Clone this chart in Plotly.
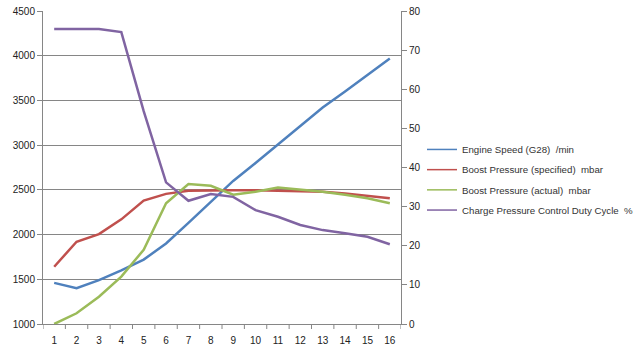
import plotly.graph_objects as go

categories = list(range(1, 17))
engine_speed = [1460, 1400, 1490, 1600, 1720, 1900, 2130, 2370, 2600, 2800, 3010, 3210, 3420, 3600, 3790, 3970]
boost_specified = [1640, 1920, 2005, 2170, 2380, 2455, 2490, 2495, 2495, 2495, 2490, 2485, 2480, 2460, 2430, 2405]
boost_actual = [1000, 1120, 1305, 1530, 1830, 2350, 2565, 2545, 2445, 2480, 2525, 2500, 2480, 2445, 2405, 2350]
duty_cycle = [75.4, 75.4, 75.4, 74.6, 54.4, 36.2, 31.5, 33.2, 32.5, 29.1, 27.4, 25.3, 24.0, 23.2, 22.3, 20.4]

names = ["Engine Speed (G28)  /min", "Boost Pressure (specified)  mbar",
         "Boost Pressure (actual)  mbar", "Charge Pressure Control Duty Cycle  %"]
colors = ["#4F81BD", "#C0504D", "#9BBB59", "#8064A2"]

fig = go.Figure()
series = [engine_speed, boost_specified, boost_actual, duty_cycle]
for i, (vals, name, col) in enumerate(zip(series, names, colors)):
    fig.add_trace(go.Scatter(x=categories, y=vals, name=name, mode="lines", legendgroup=name,
                             showlegend=False, line=dict(color=col, width=2.5),
                             yaxis="y2" if i == 3 else "y"))
for name, col in zip(names, colors):
    fig.add_trace(go.Scatter(x=[None], y=[None], name=name, mode="lines", legendgroup=name,
                             line=dict(color=col, width=1.5)))

axis_col = "#868686"
fig.update_layout(
    width=640, height=360,
    margin=dict(l=43, r=239, t=11, b=36, autoexpand=False),
    paper_bgcolor="white", plot_bgcolor="white",
    font=dict(family="Liberation Sans, Arial", size=10, color="#222"),
    showlegend=True,
    legend=dict(x=(422 - 43) / 358, xanchor="left", y=0.604, yanchor="top",
                font=dict(size=9.7, color="#333"), bgcolor="rgba(0,0,0,0)",
                traceorder="grouped", tracegroupgap=1.2),
    xaxis=dict(type="linear", range=[0.5, 16.5], tickvals=categories, ticktext=[str(c) for c in categories],
               showgrid=False, showline=True, linecolor=axis_col, linewidth=1,
               ticks="", zeroline=False, ticklabelstandoff=7),
    yaxis=dict(range=[1000, 4500], dtick=500, showgrid=True, gridcolor=axis_col, gridwidth=1,
               showline=True, linecolor=axis_col, ticks="outside", ticklen=5, tickcolor=axis_col,
               zeroline=False),
    yaxis2=dict(range=[0, 80], dtick=10, overlaying="y", side="right", showgrid=False,
                showline=True, linecolor=axis_col, ticks="outside", ticklen=5, tickcolor=axis_col,
                zeroline=False),
)
# category boundary tick marks on x axis
for b in [i + 0.5 for i in range(0, 17)]:
    fig.add_shape(type="line", xref="x", yref="paper", x0=b, x1=b, y0=0, y1=-5 / 313,
                  line=dict(color=axis_col, width=1))

fig.write_html("out.html", config={"displayModeBar": False},
               post_script="document.body.style.margin='0';")
